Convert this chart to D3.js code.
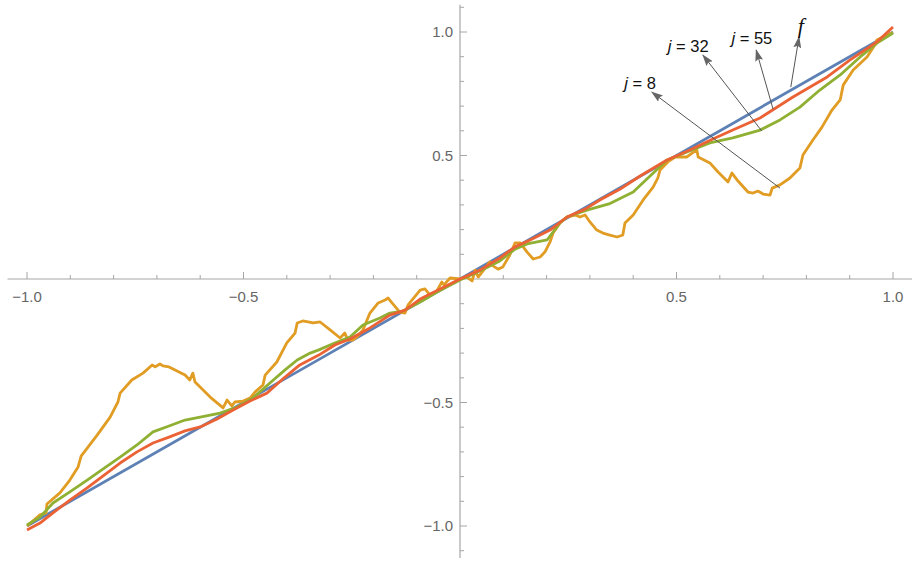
<!DOCTYPE html>
<html>
<head>
<meta charset="utf-8">
<script src="https://cdn.jsdelivr.net/npm/d3@7"></script>
<style>
  html, body { margin: 0; padding: 0; background: #fff; }
  svg { display: block; }
</style>
</head>
<body>
<svg id="chart"></svg>
<script>
const WIDTH = 912;
const HEIGHT = 563;

// f(x) = x
const fX = [-1, 1];
const fY = [-1, 1];

// j = 8
const j8X = [-1.000, -0.970, -0.956, -0.954, -0.924, -0.901, -0.882, -0.875, -0.838, -0.808, -0.790, -0.785, -0.758, -0.732, -0.711, -0.704, -0.693, -0.686, -0.672, -0.635, -0.624, -0.617, -0.612, -0.577, -0.547, -0.538, -0.527, -0.520, -0.501, -0.485, -0.473, -0.455, -0.450, -0.423, -0.400, -0.381, -0.376, -0.363, -0.339, -0.323, -0.300, -0.277, -0.266, -0.259, -0.247, -0.236, -0.224, -0.208, -0.189, -0.173, -0.166, -0.157, -0.139, -0.127, -0.120, -0.092, -0.081, -0.069, -0.055, -0.042, -0.037, -0.023, 0.000, 0.016, 0.028, 0.035, 0.042, 0.051, 0.069, 0.076, 0.088, 0.099, 0.115, 0.127, 0.139, 0.155, 0.169, 0.185, 0.196, 0.208, 0.215, 0.231, 0.247, 0.266, 0.277, 0.289, 0.300, 0.316, 0.330, 0.346, 0.363, 0.376, 0.381, 0.400, 0.423, 0.446, 0.457, 0.462, 0.480, 0.497, 0.524, 0.536, 0.547, 0.550, 0.577, 0.596, 0.619, 0.628, 0.640, 0.665, 0.677, 0.688, 0.700, 0.716, 0.721, 0.739, 0.762, 0.785, 0.792, 0.815, 0.836, 0.859, 0.878, 0.885, 0.908, 0.940, 0.958, 0.963, 0.986, 1.000];
const j8Y = [-1.000, -0.955, -0.947, -0.911, -0.866, -0.814, -0.761, -0.717, -0.632, -0.559, -0.498, -0.462, -0.409, -0.381, -0.348, -0.356, -0.344, -0.352, -0.356, -0.389, -0.409, -0.381, -0.417, -0.478, -0.522, -0.490, -0.514, -0.498, -0.494, -0.482, -0.457, -0.429, -0.389, -0.336, -0.259, -0.219, -0.178, -0.170, -0.178, -0.174, -0.206, -0.239, -0.219, -0.247, -0.247, -0.231, -0.206, -0.138, -0.097, -0.085, -0.077, -0.097, -0.134, -0.138, -0.105, -0.045, -0.040, -0.065, -0.053, -0.012, -0.024, 0.004, 0.000, 0.008, -0.008, 0.036, 0.008, 0.028, 0.069, 0.053, 0.040, 0.049, 0.097, 0.146, 0.146, 0.109, 0.081, 0.089, 0.109, 0.150, 0.186, 0.227, 0.251, 0.259, 0.251, 0.259, 0.231, 0.198, 0.186, 0.178, 0.170, 0.178, 0.227, 0.259, 0.320, 0.372, 0.409, 0.441, 0.474, 0.494, 0.494, 0.510, 0.522, 0.494, 0.470, 0.433, 0.393, 0.429, 0.401, 0.352, 0.348, 0.356, 0.344, 0.340, 0.368, 0.381, 0.409, 0.449, 0.502, 0.563, 0.615, 0.684, 0.725, 0.785, 0.846, 0.899, 0.947, 0.968, 0.988, 0.998];

// j = 32
const j32X = [-1.000, -0.970, -0.940, -0.901, -0.861, -0.824, -0.785, -0.746, -0.709, -0.672, -0.635, -0.600, -0.554, -0.515, -0.478, -0.439, -0.404, -0.376, -0.346, -0.326, -0.289, -0.254, -0.224, -0.185, -0.162, -0.132, -0.092, -0.053, 0.000, 0.046, 0.092, 0.127, 0.155, 0.201, 0.231, 0.247, 0.293, 0.344, 0.400, 0.439, 0.478, 0.524, 0.577, 0.630, 0.693, 0.739, 0.785, 0.831, 0.878, 0.924, 0.963, 1.000];
const j32Y = [-0.996, -0.964, -0.907, -0.862, -0.814, -0.769, -0.721, -0.672, -0.619, -0.595, -0.571, -0.559, -0.543, -0.518, -0.482, -0.421, -0.368, -0.328, -0.300, -0.287, -0.259, -0.235, -0.186, -0.158, -0.138, -0.130, -0.093, -0.053, -0.004, 0.032, 0.073, 0.121, 0.142, 0.158, 0.227, 0.251, 0.279, 0.304, 0.352, 0.417, 0.482, 0.514, 0.551, 0.571, 0.603, 0.644, 0.696, 0.765, 0.826, 0.899, 0.955, 0.996];

// j = 55
const j55X = [-1.000, -0.970, -0.940, -0.901, -0.861, -0.831, -0.785, -0.746, -0.709, -0.672, -0.635, -0.600, -0.561, -0.524, -0.485, -0.446, -0.404, -0.370, -0.326, -0.289, -0.254, -0.208, -0.162, -0.127, -0.092, -0.046, 0.000, 0.046, 0.092, 0.127, 0.162, 0.208, 0.247, 0.289, 0.323, 0.370, 0.416, 0.478, 0.531, 0.584, 0.630, 0.693, 0.769, 0.848, 0.901, 0.963, 1.000];
const j55Y = [-1.016, -0.988, -0.947, -0.895, -0.846, -0.806, -0.745, -0.700, -0.664, -0.640, -0.615, -0.599, -0.567, -0.530, -0.494, -0.462, -0.397, -0.348, -0.308, -0.267, -0.243, -0.198, -0.146, -0.126, -0.081, -0.040, 0.000, 0.036, 0.085, 0.130, 0.158, 0.198, 0.251, 0.283, 0.320, 0.364, 0.417, 0.482, 0.522, 0.567, 0.603, 0.652, 0.737, 0.818, 0.887, 0.960, 1.020];

const xTicks = [-1.0, -0.5, 0.5, 1.0];
const yTicks = [-1.0, -0.5, 0.5, 1.0];
const xMinor = d3.range(-10, 11).map((i) => i / 10).filter((v) => v !== 0);
const yMinor = d3.range(-11, 12).map((i) => i / 10).filter((v) => v !== 0);

// callouts: point on the curve, arrow tip, label position (data units)
const labels = [
  { text: "8", from: [0.739, 0.368], to: [0.443, 0.757], at: [0.416, 0.794] },
  { text: "32", from: [0.697, 0.599], to: [0.561, 0.907], at: [0.527, 0.943] },
  { text: "55", from: [0.723, 0.688], to: [0.684, 0.927], at: [0.674, 0.976] },
  { text: "f", from: [0.764, 0.777], to: [0.783, 0.980], at: [0.787, 1.026] },
];

const series = [
  { xs: fX, ys: fY, color: "#5E81B5" },
  { xs: j8X, ys: j8Y, color: "#E19C24" },
  { xs: j32X, ys: j32Y, color: "#8FB032" },
  { xs: j55X, ys: j55Y, color: "#EB6235" },
];

const fmt = (v) => d3.format(".1f")(v).replace("-", "\u2212");

const svg = d3.select("#chart").attr("width", WIDTH).attr("height", HEIGHT);

const xScale = d3.scaleLinear().domain([-1, 1]).range([27, 893]);
const yScale = d3.scaleLinear().domain([-1, 1]).range([526, 32]);

const x0 = xScale(0);
const y0 = yScale(0);
const AXIS = "#a6a6a6";

// axes
const axes = svg.append("g").attr("class", "axes");
axes
  .append("line")
  .attr("x1", xScale(-1.045))
  .attr("x2", xScale(1.05))
  .attr("y1", y0)
  .attr("y2", y0)
  .attr("stroke", AXIS)
  .attr("stroke-width", 1.2);
axes
  .append("line")
  .attr("x1", x0)
  .attr("x2", x0)
  .attr("y1", yScale(1.11))
  .attr("y2", yScale(-1.13))
  .attr("stroke", AXIS)
  .attr("stroke-width", 1.2);

axes
  .selectAll(".xtick")
  .data(xMinor)
  .enter()
  .append("line")
  .attr("x1", (d) => xScale(d))
  .attr("x2", (d) => xScale(d))
  .attr("y1", y0)
  .attr("y2", (d) => y0 - (xTicks.includes(d) ? 7 : 4))
  .attr("stroke", AXIS);

axes
  .selectAll(".ytick")
  .data(yMinor)
  .enter()
  .append("line")
  .attr("y1", (d) => yScale(d))
  .attr("y2", (d) => yScale(d))
  .attr("x1", x0)
  .attr("x2", (d) => x0 + (yTicks.includes(d) ? 7 : 4))
  .attr("stroke", AXIS);

axes
  .selectAll(".xlabel")
  .data(xTicks)
  .enter()
  .append("text")
  .attr("x", (d) => xScale(d))
  .attr("y", y0 + 23)
  .attr("text-anchor", "middle")
  .attr("font-family", "Liberation Sans, Arial, sans-serif")
  .attr("font-size", 15)
  .attr("fill", "#666")
  .text(fmt);

axes
  .selectAll(".ylabel")
  .data(yTicks)
  .enter()
  .append("text")
  .attr("x", x0 - 7)
  .attr("y", (d) => yScale(d) + 5)
  .attr("text-anchor", "end")
  .attr("font-family", "Liberation Sans, Arial, sans-serif")
  .attr("font-size", 15)
  .attr("fill", "#666")
  .text(fmt);

// curves
const line = d3
  .line()
  .x((d) => xScale(d[0]))
  .y((d) => yScale(d[1]));

svg
  .append("g")
  .selectAll("path")
  .data(series)
  .enter()
  .append("path")
  .attr("d", (s) => line(d3.zip(s.xs, s.ys)))
  .attr("fill", "none")
  .attr("stroke", (s) => s.color)
  .attr("stroke-width", 2.8)
  .attr("stroke-linejoin", "round");

// callouts
svg
  .append("defs")
  .append("marker")
  .attr("id", "head")
  .attr("viewBox", "0 0 12 8")
  .attr("refX", 11)
  .attr("refY", 4)
  .attr("markerWidth", 12)
  .attr("markerHeight", 8)
  .attr("markerUnits", "userSpaceOnUse")
  .attr("orient", "auto")
  .append("path")
  .attr("d", "M0,0 L12,4 L0,8 L2,4 Z")
  .attr("fill", "#666");

const notes = svg.append("g").attr("class", "notes");

notes
  .selectAll("line")
  .data(labels)
  .enter()
  .append("line")
  .attr("x1", (d) => xScale(d.from[0]))
  .attr("y1", (d) => yScale(d.from[1]))
  .attr("x2", (d) => xScale(d.to[0]))
  .attr("y2", (d) => yScale(d.to[1]))
  .attr("stroke", "#555")
  .attr("stroke-width", 1)
  .attr("marker-end", "url(#head)");

const txt = notes
  .selectAll("text")
  .data(labels)
  .enter()
  .append("text")
  .attr("x", (d) => xScale(d.at[0]))
  .attr("y", (d) => yScale(d.at[1]))
  .attr("text-anchor", "middle")
  .attr("dominant-baseline", "central")
  .attr("fill", "#111");

txt.each(function (d) {
  const t = d3.select(this);
  if (d.text === "f") {
    t.attr("font-family", "Liberation Serif, Times New Roman, serif")
      .attr("font-style", "italic")
      .attr("font-size", 22)
      .text("f");
    return;
  }
  t.attr("font-family", "Liberation Sans, Arial, sans-serif").attr("font-size", 16.5);
  t.append("tspan").attr("font-style", "italic").text("j");
  t.append("tspan").text(" = " + d.text);
});
</script>
</body>
</html>
